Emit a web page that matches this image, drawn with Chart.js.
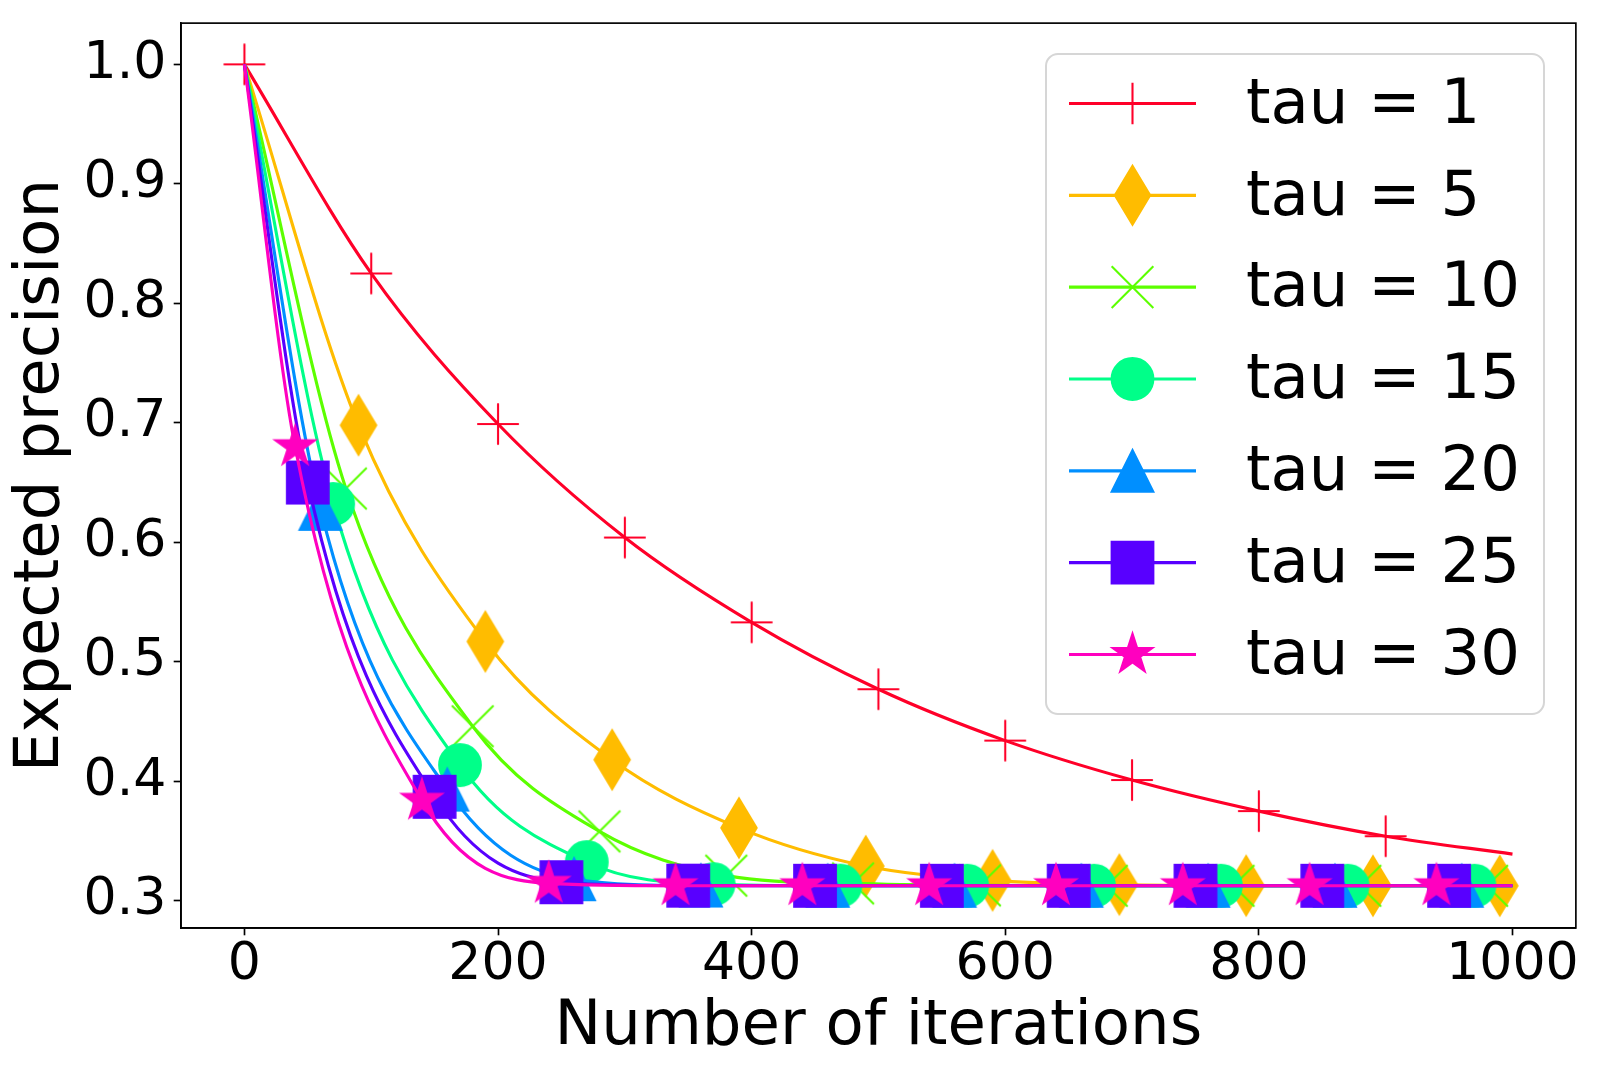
<!DOCTYPE html>
<html lang="en">
<head>
<meta charset="UTF-8" />
<title>Expected precision</title>
<script src="https://cdn.jsdelivr.net/npm/chart.js"></script>
<style>
  html, body { margin: 0; padding: 0; background: #fff; }
  canvas { display: block; }
</style>
</head>
<body>
<canvas id="myChart" width="1599" height="1078"></canvas>
<script>
// values
const taus = [1, 5, 10, 15, 20, 25, 30];
const markerStart = [0, 90, 80, 70, 60, 50, 40]; // first marked iteration, then every 100

const xTau1 = [0, 100, 200, 300, 400, 500, 600, 700, 800, 900, 1000];
const yTau1 = [1.0, 0.825, 0.699, 0.604, 0.533, 0.477, 0.434, 0.401, 0.375, 0.354, 0.339];

const xTau5 = [0, 90, 190, 290, 390, 490, 590, 690, 790, 890, 990, 1000];
const yTau5 = [1.0, 0.698, 0.517, 0.418, 0.361, 0.329, 0.317, 0.3135, 0.3126, 0.3125, 0.3125, 0.3125];

const xTau10 = [0, 80, 180, 280, 380, 480, 580, 680, 780, 880, 980, 1000];
const yTau10 = [1.0, 0.645, 0.446, 0.358, 0.321, 0.3145, 0.3128, 0.3125, 0.3125, 0.3125, 0.3125, 0.3125];

const xTau15 = [0, 70, 170, 270, 370, 470, 570, 670, 770, 870, 970, 1000];
const yTau15 = [1.0, 0.632, 0.4135, 0.3323, 0.3138, 0.3126, 0.3125, 0.3125, 0.3125, 0.3125, 0.3125, 0.3125];

const xTau20 = [0, 60, 160, 260, 360, 460, 560, 660, 760, 860, 960, 1000];
const yTau20 = [1.0, 0.628, 0.393, 0.318, 0.3127, 0.3125, 0.3125, 0.3125, 0.3125, 0.3125, 0.3125, 0.3125];

const xTau25 = [0, 50, 150, 250, 350, 450, 550, 650, 750, 850, 950, 1000];
const yTau25 = [1.0, 0.650, 0.387, 0.3155, 0.3126, 0.3125, 0.3125, 0.3125, 0.3125, 0.3125, 0.3125, 0.3125];

const xTau30 = [0, 40, 140, 240, 340, 440, 540, 640, 740, 840, 940, 1000];
const yTau30 = [1.0, 0.680, 0.384, 0.3145, 0.3125, 0.3125, 0.3125, 0.3125, 0.3125, 0.3125, 0.3125, 0.3125];

const xTicks = [0, 200, 400, 600, 800, 1000];
const yTicks = [0.3, 0.4, 0.5, 0.6, 0.7, 0.8, 0.9, 1.0];

const xs = [xTau1, xTau5, xTau10, xTau15, xTau20, xTau25, xTau30];
const ys = [yTau1, yTau5, yTau10, yTau15, yTau20, yTau25, yTau30];

// styles (gist_rainbow, matplotlib sizes at 150 dpi)
const colors = ["#ff0029", "#ffbc00", "#5cff00", "#00ff89", "#008fff", "#5800ff", "#ff00bf"];
const shapes = ["plus", "thinDiamond", "x", "circle", "triangle", "square", "star"];
const FONT = "'DejaVu Sans', sans-serif";
const MS = 41.7, MEW = 2.08, LW = 3.125;

function drawMarker(ctx, shape, x, y, color) {
  const h = MS / 2;
  ctx.save();
  ctx.translate(x, y);
  ctx.strokeStyle = color;
  ctx.fillStyle = color;
  ctx.lineWidth = MEW;
  ctx.lineJoin = "miter";
  ctx.beginPath();
  if (shape === "plus") {
    ctx.moveTo(-h, 0); ctx.lineTo(h, 0);
    ctx.moveTo(0, -h); ctx.lineTo(0, h);
    ctx.stroke();
  } else if (shape === "x") {
    ctx.moveTo(-h, -h); ctx.lineTo(h, h);
    ctx.moveTo(-h, h); ctx.lineTo(h, -h);
    ctx.stroke();
  } else {
    if (shape === "thinDiamond") {
      const dy = MS * Math.SQRT1_2, dx = 0.6 * dy;
      ctx.moveTo(0, -dy); ctx.lineTo(dx, 0); ctx.lineTo(0, dy); ctx.lineTo(-dx, 0);
      ctx.closePath();
    } else if (shape === "circle") {
      ctx.arc(0, 0, h, 0, 2 * Math.PI);
    } else if (shape === "triangle") {
      ctx.moveTo(0, -h); ctx.lineTo(h, h); ctx.lineTo(-h, h);
      ctx.closePath();
    } else if (shape === "square") {
      ctx.rect(-h, -h, MS, MS);
    } else if (shape === "star") {
      for (let k = 0; k < 10; k++) {
        const r = k % 2 ? h * 0.381966 : h;
        const a = -Math.PI / 2 + k * Math.PI / 5;
        if (k === 0) ctx.moveTo(r * Math.cos(a), r * Math.sin(a));
        else ctx.lineTo(r * Math.cos(a), r * Math.sin(a));
      }
      ctx.closePath();
    }
    ctx.fill();
    ctx.stroke();
  }
  ctx.restore();
}

function markerImage(shape, color) {
  const c = document.createElement("canvas");
  c.width = 80;
  c.height = 80;
  drawMarker(c.getContext("2d"), shape, 40, 40, color);
  return c;
}

const datasets = taus.map((tau, i) => ({
  label: "tau = " + tau,
  data: xs[i].map((x, j) => ({ x: x, y: ys[i][j] })),
  borderColor: colors[i],
  backgroundColor: colors[i],
  borderWidth: LW,
  cubicInterpolationMode: "monotone",
  pointStyle: markerImage(shapes[i], colors[i]),
  pointRadius: ctx => {
    const x = ctx.raw ? ctx.raw.x : -1;
    return x >= markerStart[i] && x < 1000 && (x - markerStart[i]) % 100 === 0 ? 20 : 0;
  },
  order: taus.length - 1 - i
}));

// axes frame on all four sides
const framePlugin = {
  id: "frame",
  afterDatasetsDraw(chart) {
    const a = chart.chartArea, ctx = chart.ctx;
    ctx.save();
    ctx.strokeStyle = "#000";
    ctx.lineWidth = 1.67;
    ctx.strokeRect(a.left, a.top, a.right - a.left, a.bottom - a.top);
    ctx.restore();
  }
};

// matplotlib style legend inside the axes
const legendPlugin = {
  id: "innerLegend",
  afterDraw(chart) {
    const ctx = chart.ctx;
    ctx.save();
    ctx.beginPath();
    ctx.roundRect(1046, 54, 498, 660, 12);
    ctx.fillStyle = "rgba(255,255,255,0.8)";
    ctx.fill();
    ctx.strokeStyle = "#d6d6d6";
    ctx.lineWidth = 2;
    ctx.stroke();
    ctx.font = "62.5px " + FONT;
    ctx.textBaseline = "middle";
    ctx.textAlign = "left";
    chart.data.datasets.forEach((ds, i) => {
      const y = 103.5 + i * 91.83;
      ctx.beginPath();
      ctx.moveTo(1069, y);
      ctx.lineTo(1196, y);
      ctx.strokeStyle = colors[i];
      ctx.lineWidth = LW;
      ctx.stroke();
      drawMarker(ctx, shapes[i], 1132.5, y, colors[i]);
      ctx.fillStyle = "#000";
      ctx.fillText(ds.label, 1246, y + 3);
    });
    ctx.restore();
  }
};

const tickGrid = {
  display: true,
  drawOnChartArea: false,
  drawTicks: true,
  tickLength: 7.3,
  tickWidth: 1.67,
  tickColor: "#000"
};

const ctx = document.getElementById("myChart").getContext("2d");
const myChart = new Chart(ctx, {
  type: "line",
  data: { datasets: datasets },
  plugins: [framePlugin, legendPlugin],
  options: {
    responsive: false,
    animation: false,
    devicePixelRatio: 1,
    layout: { padding: { left: 0, top: 22, right: 23, bottom: 0 } },
    scales: {
      x: {
        type: "linear",
        min: -50,
        max: 1050,
        afterBuildTicks: s => { s.ticks = xTicks.map(v => ({ value: v })); },
        afterFit: s => {
          s.height = 150;
          s.paddingLeft = 0;
          s.paddingRight = 0;
        },
        ticks: {
          color: "#000",
          font: { family: FONT, size: 52.08 },
          padding: -1,
          maxRotation: 0,
          autoSkip: false,
          callback: v => String(v)
        },
        grid: tickGrid,
        border: { display: true, color: "#000", width: 1.67 },
        title: {
          display: true,
          text: "Number of iterations",
          color: "#000",
          font: { family: FONT, size: 62.5 },
          padding: { top: 0, bottom: 12.8 }
        }
      },
      y: {
        type: "linear",
        min: 0.27717,
        max: 1.03452,
        afterBuildTicks: s => { s.ticks = yTicks.map(v => ({ value: v })); },
        afterFit: s => {
          s.width = 181;
          s.paddingTop = 0;
          s.paddingBottom = 0;
        },
        ticks: {
          color: "#000",
          font: { family: FONT, size: 52.08 },
          padding: 7.3,
          autoSkip: false,
          callback: v => v.toFixed(1)
        },
        grid: tickGrid,
        border: { display: true, color: "#000", width: 1.67 },
        title: {
          display: true,
          text: "Expected precision",
          color: "#000",
          font: { family: FONT, size: 62.5 },
          padding: { top: 3.9, bottom: 0 }
        }
      }
    },
    plugins: {
      legend: { display: false },
      tooltip: { enabled: false }
    }
  }
});
</script>
</body>
</html>
